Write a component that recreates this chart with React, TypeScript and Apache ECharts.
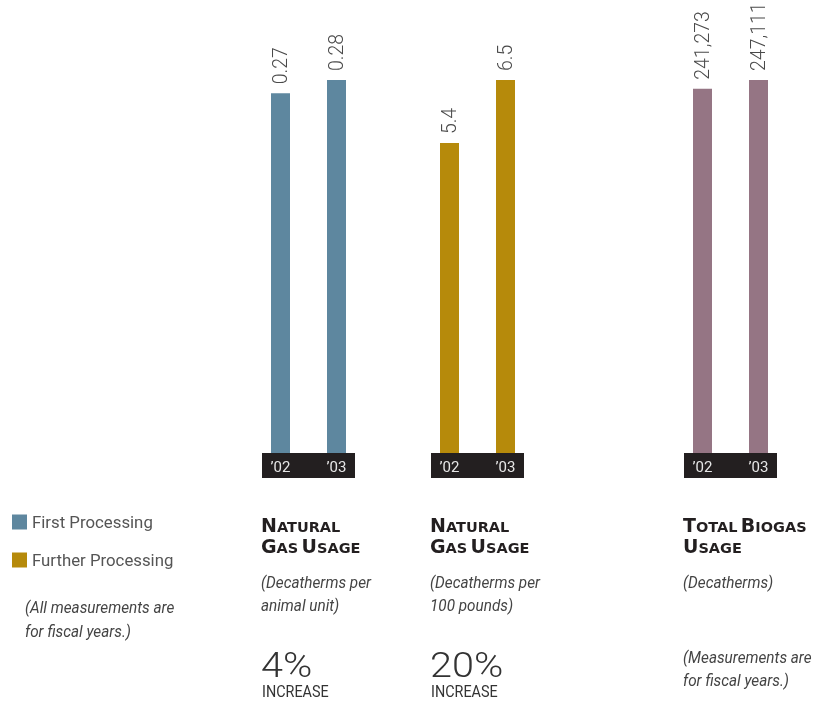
import React, { useEffect, useRef } from 'react';
import * as echarts from 'echarts';

const years = ['\u201902', '\u201903'];
const firstProcessing = [0.27, 0.28];
const furtherProcessing = [5.4, 6.5];
const totalBiogas = [241273, 247111];
const seriesNames = ['First Processing', 'Further Processing', 'Total Biogas Usage'];
const seriesData = [firstProcessing, furtherProcessing, totalBiogas];
const percentIncrease = ['4%', '20%'];
const subtitles = ['(Decatherms per\nanimal unit)', '(Decatherms per\n100 pounds)', '(Decatherms)'];

const COLORS = ['#5e879f', '#b68a0b', '#957584'];
const GRID_LEFTS = [252.5, 421.5, 674.5];
const GRID_TOP = 80;
const GRID_H = 373;
const GRID_W = 112;

const TITLE_RICH = {
  b: { fontSize: 19, fontWeight: 'bold', fontFamily: 'DejaVu Sans', fill: '#231f20', color: '#231f20', lineHeight: 20.5, verticalAlign: 'bottom' },
  s: { fontSize: 14.5, fontWeight: 'bold', fontFamily: 'DejaVu Sans', fill: '#231f20', color: '#231f20', lineHeight: 20.5, verticalAlign: 'bottom' },
};

function titleText(x: number, text: string) {
  return {
    type: 'text',
    x,
    y: 514,
    z: 5,
    style: { text, rich: TITLE_RICH, verticalAlign: 'top', align: 'left' },
  };
}

function plainText(x: number, y: number, text: string, o: any) {
  return {
    type: 'text',
    x,
    y,
    z: 5,
    scaleX: o.scaleX ?? 1,
    style: {
      text,
      fontFamily: o.fontFamily ?? 'Roboto',
      fontSize: o.fontSize,
      fontWeight: o.fontWeight ?? 'normal',
      fontStyle: o.fontStyle ?? 'normal',
      lineHeight: o.lineHeight,
      fill: o.fill ?? '#444',
      verticalAlign: 'top',
      align: 'left',
    },
  };
}

export default function App() {
  const ref = useRef<HTMLDivElement>(null);
  useEffect(() => {
    if (!ref.current) return;
    const chart = echarts.init(ref.current, null, { renderer: 'svg' });
    const grids = GRID_LEFTS.map((left) => ({ left, top: GRID_TOP, width: GRID_W, height: GRID_H }));
    const xAxis = GRID_LEFTS.map((_, i) => ({
      gridIndex: i,
      type: 'category',
      data: years,
      z: 10,
      axisLine: { show: false },
      axisTick: { show: false },
      axisLabel: { color: '#e6e6e6', fontSize: 15, fontFamily: 'Roboto', margin: 6 },
    }));
    const yAxis = GRID_LEFTS.map((_, i) => ({
      gridIndex: i,
      type: 'value',
      min: 0,
      max: (v: any) => v.max,
      show: false,
      splitLine: { show: false },
    }));
    const series = seriesData.map((data, i) => ({
      type: 'bar',
      name: seriesNames[i],
      xAxisIndex: i,
      yAxisIndex: i,
      data,
      barWidth: 19,
      itemStyle: { color: COLORS[i] },
      label: {
        show: true,
        position: 'top',
        rotate: 90,
        align: 'left',
        verticalAlign: 'middle',
        distance: 9,
        fontSize: 19.5,
        fontWeight: 300,
        fontFamily: 'Roboto',
        color: '#4a4a4a',
        formatter: (p: any) => (i === 2 ? Number(p.value).toLocaleString('en-US') : String(p.value)),
      },
    }));

    const graphic: any[] = [];
    GRID_LEFTS.forEach((left) => {
      graphic.push({
        type: 'rect',
        z: 0,
        shape: { x: left + 9.5, y: GRID_TOP + GRID_H, width: 93, height: 25 },
        style: { fill: '#231f20' },
      });
    });
    graphic.push(titleText(261, '{b|N}{s|ATURAL}\n{b|G}{s|AS} {b|U}{s|SAGE}'));
    graphic.push(titleText(430, '{b|N}{s|ATURAL}\n{b|G}{s|AS} {b|U}{s|SAGE}'));
    graphic.push(titleText(683, '{b|T}{s|OTAL} {b|B}{s|IOGAS}\n{b|U}{s|SAGE}'));
    const subX = [261, 430, 683];
    subtitles.forEach((t, i) => {
      graphic.push(plainText(subX[i], 570.5, t, { fontSize: 17, fontStyle: 'italic', lineHeight: 23, scaleX: 0.9 }));
    });
    graphic.push(plainText(683, 645, '(Measurements are\nfor fiscal years.)', { fontSize: 17, fontStyle: 'italic', lineHeight: 23.5, scaleX: 0.9 }));
    graphic.push(plainText(25, 595, '(All measurements are\nfor fiscal years.)', { fontSize: 17, fontStyle: 'italic', lineHeight: 24, scaleX: 0.9 }));
    percentIncrease.forEach((p, i) => {
      graphic.push(plainText(subX[i], 645, p, { fontSize: 36, fontWeight: 300, lineHeight: 40, fill: '#333', scaleX: 1.1 }));
      graphic.push(plainText(subX[i] + 1, 683, 'INCREASE', { fontSize: 16, fontWeight: 'normal', lineHeight: 18, fill: '#333', scaleX: 0.9 }));
    });

    chart.setOption({
      animation: false,
      legend: {
        data: [seriesNames[0], seriesNames[1]],
        orient: 'vertical',
        left: 7,
        top: 508,
        icon: 'rect',
        itemWidth: 15,
        itemHeight: 15,
        itemGap: 20,
        textStyle: { fontSize: 16.8, color: '#555', fontFamily: 'Roboto', lineHeight: 18 },
        selectedMode: false,
      },
      grid: grids,
      xAxis,
      yAxis,
      series,
      graphic,
    });
    return () => chart.dispose();
  }, []);
  return <div ref={ref} style={{ position: 'fixed', left: 0, top: 0, width: 814, height: 701 }} />;
}
